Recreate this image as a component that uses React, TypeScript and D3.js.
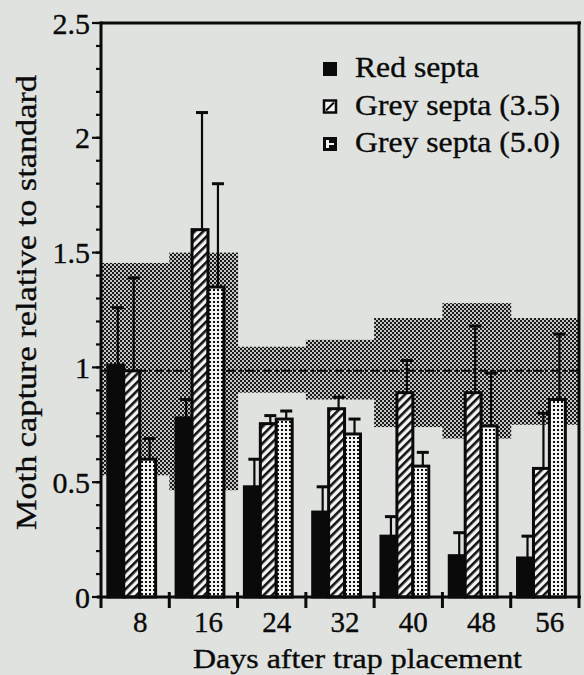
import React from "react";
import * as d3 from "d3";

// days after trap placement
const days = [8, 16, 24, 32, 40, 48, 56];
// moth capture relative to the standard (bar heights)
const redSepta = [1.01, 0.78, 0.48, 0.37, 0.265, 0.18, 0.17];
const grey35 = [0.985, 1.6, 0.755, 0.82, 0.89, 0.89, 0.56];
const grey50 = [0.6, 1.35, 0.775, 0.71, 0.57, 0.745, 0.86];
// upward error bars (SE)
const redErr = [0.25, 0.08, 0.12, 0.11, 0.085, 0.1, 0.095];
const grey35Err = [0.405, 0.51, 0.035, 0.05, 0.14, 0.29, 0.24];
const grey50Err = [0.09, 0.45, 0.035, 0.065, 0.06, 0.23, 0.285];
// range of the standard (shaded band) and its mean
const stdHigh = [1.455, 1.5, 1.09, 1.12, 1.215, 1.28, 1.215];
const stdLow = [0.53, 0.465, 0.89, 0.86, 0.74, 0.69, 0.75];
const stdMean = 0.985;

const seriesNames = ["Red septa", "Grey septa (3.5)", "Grey septa (5.0)"];
const yTicks = [0, 0.5, 1, 1.5, 2, 2.5];

const W = 584;
const H = 675;
const margin = { top: 23, right: 5, bottom: 78, left: 101 };
const font = "Liberation Serif, Times New Roman, Times, serif";
const paper = "#dfe2de";
const ink = "#0a0a0a";

export default function App() {
  const x0 = d3
    .scaleBand<number>()
    .domain(days)
    .range([margin.left, 579])
    .padding(0);
  const bw = x0.bandwidth();
  const x1 = d3
    .scaleBand<number>()
    .domain([0, 1, 2])
    .range([bw * 0.1, bw * 0.8])
    .padding(0);
  const y = d3
    .scaleLinear()
    .domain([0, 2.5])
    .range([H - margin.bottom, margin.top]);
  const y0 = y(0);

  const values = [redSepta, grey35, grey50];
  const errs = [redErr, grey35Err, grey50Err];
  const fills = [ink, "url(#hatch)", "url(#dots)"];

  const minor = d3.range(0, 2.501, 0.1);
  // text gets a thin outline so it reads as heavy as the scan
  const txt = { fill: ink, stroke: ink, strokeWidth: 0.35 };

  return (
    <svg
      width={W}
      height={H}
      style={{ position: "absolute", left: 0, top: 0, background: paper, fontFamily: font }}
    >
      <defs>
        <pattern id="shade" width={4} height={4} patternUnits="userSpaceOnUse">
          <rect width={4} height={4} fill="#c2c5c2" />
          <rect x={0} y={0} width={2} height={2} fill="#1a1a1a" />
          <rect x={2} y={2} width={2} height={2} fill="#1a1a1a" />
        </pattern>
        <pattern
          id="hatch"
          width={6}
          height={6}
          patternUnits="userSpaceOnUse"
          patternTransform="rotate(45)"
        >
          <rect width={6} height={6} fill="#f4f4f2" />
          <rect x={0} y={0} width={2.6} height={6} fill="#111" />
        </pattern>
        <pattern id="dots" width={4} height={4} patternUnits="userSpaceOnUse">
          <rect width={4} height={4} fill="#f4f4f2" />
          <rect x={1} y={1} width={2} height={2} fill="#111" />
        </pattern>
      </defs>
      <rect width={W} height={H} fill={paper} />

      {/* shaded range of the standard */}
      {days.map((d, i) => (
        <rect
          key={"s" + d}
          x={x0(d)}
          width={bw + 0.5}
          y={y(stdHigh[i])}
          height={y(stdLow[i]) - y(stdHigh[i])}
          fill="url(#shade)"
        />
      ))}

      {/* standard mean */}
      <line
        x1={margin.left}
        x2={579}
        y1={y(stdMean)}
        y2={y(stdMean)}
        stroke={ink}
        strokeWidth={2}
        strokeDasharray="9,3,3,3"
      />

      {/* bars */}
      {days.map((d, i) =>
        values.map((vals, s) => {
          const bx = (x0(d) as number) + (x1(s) as number);
          const w = x1.bandwidth();
          return (
            <rect
              key={"b" + d + s}
              x={bx}
              y={y(vals[i])}
              width={w}
              height={y0 - y(vals[i])}
              fill={fills[s]}
              stroke={ink}
              strokeWidth={3}
            />
          );
        })
      )}

      {/* error bars */}
      {days.map((d, i) =>
        values.map((vals, s) => {
          const cx = (x0(d) as number) + (x1(s) as number) + x1.bandwidth() / 2 + 2;
          const top = y(vals[i] + errs[s][i]);
          return (
            <g key={"e" + d + s} stroke={ink}>
              <line x1={cx} x2={cx} y1={y(vals[i])} y2={top} strokeWidth={2.2} />
              <line x1={cx - 6} x2={cx + 6} y1={top} y2={top} strokeWidth={3} />
            </g>
          );
        })
      )}

      {/* frame */}
      <g stroke={ink} strokeWidth={3} fill="none">
        <line x1={margin.left} x2={margin.left} y1={margin.top - 1.5} y2={y0 + 11} />
        <line x1={579} x2={579} y1={margin.top - 1.5} y2={y0 + 11} />
        <line x1={margin.left} x2={581} y1={margin.top} y2={margin.top} />
        <line x1={margin.left - 4} x2={581} y1={y0} y2={y0} />
      </g>

      {/* y ticks */}
      {minor.map((v) => (
        <line
          key={"m" + v}
          x1={margin.left - 5}
          x2={margin.left}
          y1={y(v)}
          y2={y(v)}
          stroke={ink}
          strokeWidth={2.2}
        />
      ))}
      {yTicks.map((v) => (
        <g key={"y" + v}>
          <line
            x1={margin.left - 9}
            x2={margin.left}
            y1={y(v)}
            y2={y(v)}
            stroke={ink}
            strokeWidth={2.2}
          />
          <text
            x={margin.left - 11}
            y={y(v)}
            dy="0.35em"
            textAnchor="end"
            fontSize={30}
            {...txt}
          >
            {v}
          </text>
        </g>
      ))}

      {/* x ticks at group boundaries */}
      {days.slice(1).map((d) => (
        <line
          key={"xt" + d}
          x1={x0(d)}
          x2={x0(d)}
          y1={y0 - 5}
          y2={y0 + 11}
          stroke={ink}
          strokeWidth={3}
        />
      ))}
      {days.map((d) => (
        <text
          key={"xl" + d}
          x={(x0(d) as number) + bw / 2 + 5}
          y={632}
          textAnchor="middle"
          fontSize={29}
          {...txt}
        >
          {d}
        </text>
      ))}

      {/* axis titles */}
      <text
        x={193}
        y={668}
        fontSize={28}
        textLength={329}
        lengthAdjust="spacingAndGlyphs"
        {...txt}
      >
        Days after trap placement
      </text>
      <text
        transform="translate(36,530) rotate(-90)"
        fontSize={30}
        textLength={455}
        lengthAdjust="spacingAndGlyphs"
        {...txt}
      >
        Moth capture relative to standard
      </text>

      {/* legend */}
      {seriesNames.map((name, s) => {
        const ly = 77 + s * 37.5;
        return (
          <g key={"lg" + s}>
            {s === 0 && <rect x={323} y={ly - 15} width={14} height={14} fill={ink} />}
            {s === 1 && (
              <g>
                <rect x={324} y={ly - 14} width={12} height={12} fill="#f4f4f2" stroke={ink} strokeWidth={2.5} />
                <line x1={326} y1={ly - 4} x2={334} y2={ly - 12} stroke={ink} strokeWidth={2} />
              </g>
            )}
            {s === 2 && (
              <g>
                <rect x={323} y={ly - 15} width={14} height={14} fill={ink} />
                <rect x={326} y={ly - 12} width={3} height={8} fill="#f4f4f2" />
                <rect x={329} y={ly - 9} width={5} height={2} fill="#f4f4f2" />
              </g>
            )}
            <text
              x={355}
              y={ly}
              fontSize={29}
              textLength={s === 0 ? 124 : 205}
              lengthAdjust="spacingAndGlyphs"
              {...txt}
            >
              {name}
            </text>
          </g>
        );
      })}
    </svg>
  );
}
